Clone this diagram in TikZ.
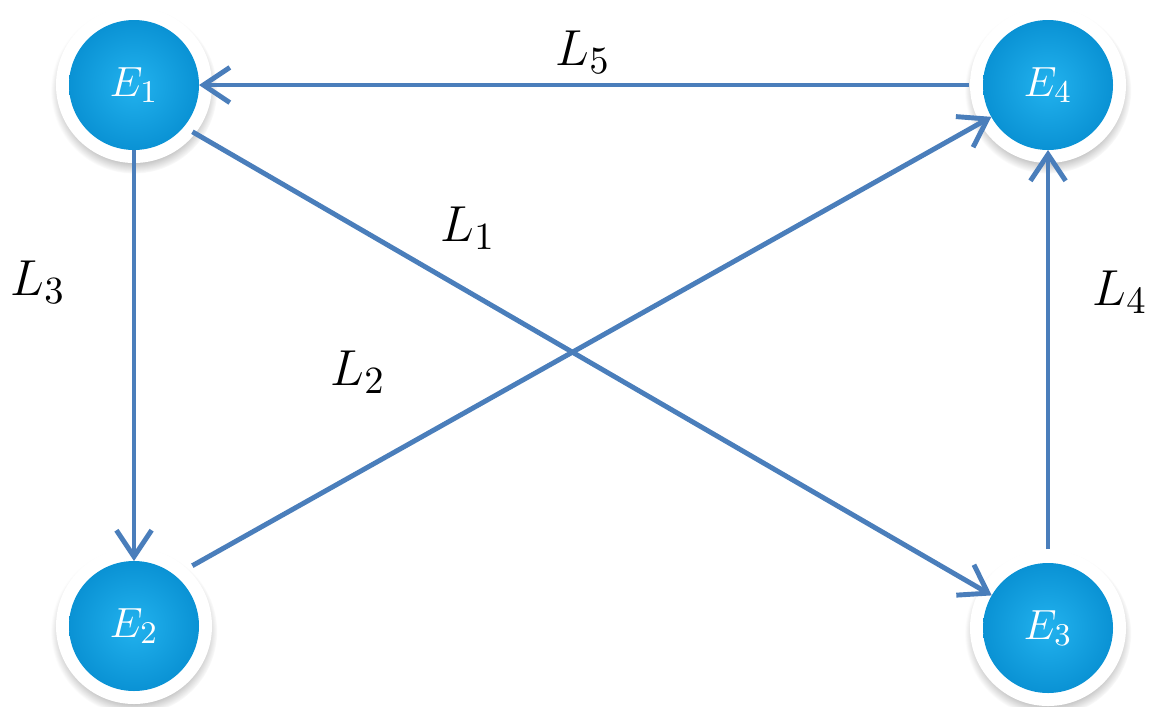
\documentclass[tikz,border=0pt]{standalone}
\usepackage{amsmath,amssymb}
\usepackage{tikz}
\usepackage{xcolor}
\usetikzlibrary{arrows.meta,shadows}
\definecolor{ballin}{RGB}{34,178,238}
\definecolor{ballout}{RGB}{10,146,212}
\definecolor{linkcol}{RGB}{74,126,187}
\tikzset{
  ball/.style={circle,minimum size=1.3cm,inner sep=0pt,outer sep=0pt,
    inner color=ballin,outer color=ballout,text=white,
    font=\fontsize{12.5}{14}\selectfont,
    circular drop shadow={shadow xshift=0pt,shadow yshift=-1.2pt,
      shadow scale=1.28,fill=black!55,opacity=.45},
    preaction={draw=white,line width=0.26cm}},
  link/.style={->,linkcol,line width=1.4pt},
  lab/.style={font=\fontsize{15.5}{18}\selectfont}
}
\begin{document}
\begin{tikzpicture}[>={Straight Barb[length=7.5pt,width=10pt,line width=1.4pt]}]
\useasboundingbox (0,0) rectangle (11.63,7.06);
\node[ball] (e1) at (1.34,6.21) {$E_1$};
\node[ball] (e2) at (1.34,0.80) {$E_2$};
\node[ball] (e3) at (10.48,0.78) {$E_3$};
\node[ball] (e4) at (10.48,6.21) {$E_4$};
\draw[link,shorten <=0.14cm] (e4) -- (e1);
\draw[link] (e1) -- (e2);
\draw[link,shorten <=0.1cm] (e1.-40) -- (e3);
\draw[link,shorten <=0.2cm] (e2.51) -- (e4);
\draw[link,shorten <=0.14cm] (e3) -- (e4);
\node[lab] (l5) at (5.83,6.54) {$L_5$};
\node[lab] (l1) at (4.68,4.78) {$L_1$};
\node[lab] (l3) at (0.38,4.24) {$L_3$};
\node[lab] (l2) at (3.58,3.34) {$L_2$};
\node[lab] (l4) at (11.20,4.14) {$L_4$};
\end{tikzpicture}
\end{document}
